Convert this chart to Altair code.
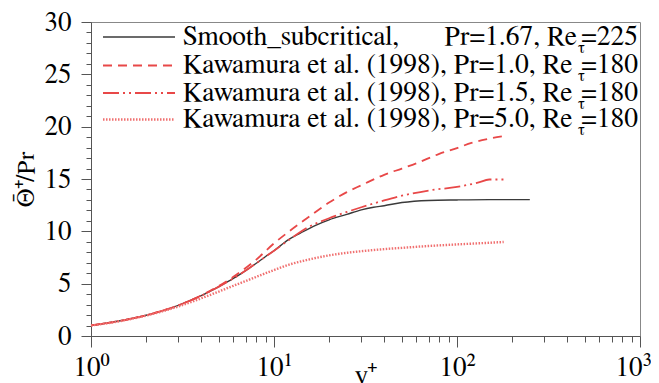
import altair as alt
import pandas as pd

# ---- data ----
yplus_smooth = [1, 1.5, 2, 2.5, 3, 4, 5, 6, 7, 8, 9, 10, 12, 14, 17, 20, 25, 30, 35, 40, 50, 70, 100, 150, 200, 250]
theta_smooth = [1.0, 1.5, 1.98, 2.45, 2.93, 3.85, 4.72, 5.5, 6.25, 6.95, 7.6, 8.15, 9.2, 9.85, 10.6, 11.1, 11.62, 12.05, 12.3, 12.45, 12.75, 12.95, 13.0, 13.03, 13.03, 13.03]

yplus_pr10 = [1, 1.5, 2, 3, 4, 5, 6, 7, 8, 10, 12, 15, 20, 25, 30, 40, 50, 60, 80, 100, 120, 150, 180]
theta_pr10 = [1.0, 1.5, 1.98, 2.93, 3.87, 4.78, 5.65, 6.5, 7.3, 8.85, 9.95, 11.2, 12.75, 13.75, 14.4, 15.4, 16.0, 16.5, 17.4, 17.95, 18.45, 18.85, 19.1]

yplus_pr15 = [1, 1.5, 2, 3, 4, 5, 6, 7, 8, 10, 12, 15, 20, 25, 30, 40, 50, 70, 100, 130, 150, 180]
theta_pr15 = [1.0, 1.5, 1.98, 2.93, 3.85, 4.72, 5.5, 6.25, 6.95, 8.15, 9.15, 10.3, 11.25, 11.85, 12.3, 12.95, 13.4, 13.9, 14.25, 14.65, 14.95, 14.95]

yplus_pr50 = [1, 1.5, 2, 3, 4, 5, 6, 7, 8, 10, 12, 15, 20, 25, 30, 40, 50, 70, 100, 140, 180]
theta_pr50 = [1.0, 1.48, 1.95, 2.82, 3.6, 4.25, 4.8, 5.25, 5.65, 6.3, 6.8, 7.25, 7.7, 7.95, 8.1, 8.3, 8.42, 8.6, 8.75, 8.88, 8.98]

x_major = [1, 10, 100, 1000]
x_tick_labels = ["10⁰", "10¹", "10²", "10³"]
x_minor = [2, 3, 4, 5, 6, 7, 8, 9, 20, 30, 40, 50, 60, 70, 80, 90, 200, 300, 400, 500, 600, 700, 800, 900]
y_major = [0, 5, 10, 15, 20, 25, 30]
y_minor = [v for v in range(31) if v % 5 != 0]

legend_left = ["Smooth_subcritical,", "Kawamura et al. (1998), Pr=1.0, Re",
               "Kawamura et al. (1998), Pr=1.5, Re", "Kawamura et al. (1998), Pr=5.0, Re"]
legend_mid = ["Pr=1.67, Re", None, None, None]
legend_sub = ["τ", "τ", "τ", "τ"]
legend_right = ["=225", "=180", "=180", "=180"]

# ---- styles ----
FONT = "FreeSerif"
BLACK = "#3a3a3a"
RED = "#e84848"
PINK = "#f07070"
styles = [
    dict(color=BLACK, width=1.4, dash=None),
    dict(color=RED, width=1.8, dash=[9, 6]),
    dict(color=RED, width=1.8, dash=[16, 4, 2, 4, 2, 4]),
    dict(color=PINK, width=2.4, dash=[1.5, 1.5]),
]
series = [(yplus_smooth, theta_smooth), (yplus_pr10, theta_pr10),
          (yplus_pr15, theta_pr15), (yplus_pr50, theta_pr50)]

W, H = 549, 314
xscale = alt.Scale(type="log", domain=[1, 1000], nice=False)
yscale = alt.Scale(domain=[0, 30], nice=False, zero=False)

label_expr = " : ".join(
    f"datum.value == {v} ? '{l}'" for v, l in zip(x_major[:-1], x_tick_labels[:-1])
) + f" : '{x_tick_labels[-1]}'"

x_axis_major = alt.Axis(
    values=x_major, labelExpr=label_expr, tickSize=11, labelPadding=28,
    labelBaseline="alphabetic", labelFont=FONT, labelFontSize=27, labelColor="black",
    labelOffset=alt.ConditionalAxisNumber(condition={"test": "datum.value == 1000", "value": -7}, value=0),
    domainColor="#555", tickColor="#555", grid=False, labelFlush=False, labelOverlap=False,
    title="y⁺", titleFont=FONT, titleFontSize=27, titleFontWeight="normal", titleColor="black",
    titleX=W / 2, titleY=47, titleBaseline="alphabetic", orient="bottom",
)
y_axis_major = alt.Axis(
    values=y_major, tickSize=10, labelPadding=10, labelFont=FONT, labelFontSize=27,
    labelColor="black", domainColor="#555", tickColor="#555", grid=False, labelOverlap=False,
    title="Θ̄⁺/Pr", titleFont=FONT, titleFontSize=25, titleFontWeight="normal", titleColor="black",
    titleX=-58, titleY=H / 2, titleAngle=270, titleBaseline="alphabetic", orient="left",
)
x_axis_minor = alt.Axis(values=x_minor, tickSize=6, labels=False, domain=False, grid=False,
                        tickColor="#555", title=None, orient="bottom")
y_axis_minor = alt.Axis(values=y_minor, tickSize=5, labels=False, domain=False, grid=False,
                        tickColor="#555", title=None, orient="left")

layers = []
for i, ((xs, ys), st) in enumerate(zip(series, styles)):
    df = pd.DataFrame({"yplus": xs, "theta": ys})
    mk = dict(color=st["color"], strokeWidth=st["width"], interpolate="monotone")
    if st["dash"]:
        mk["strokeDash"] = st["dash"]
    layers.append(alt.Chart(df).mark_line(**mk).encode(
        x=alt.X("yplus:Q", scale=xscale, axis=x_axis_major if i == 0 else None),
        y=alt.Y("theta:Q", scale=yscale, axis=y_axis_major if i == 0 else None),
    ))

# minor ticks layer (invisible line carrying the minor-tick axes)
df0 = pd.DataFrame({"yplus": yplus_smooth, "theta": theta_smooth})
layers.insert(1, alt.Chart(df0).mark_line(strokeOpacity=0).encode(
    x=alt.X("yplus:Q", scale=xscale, axis=x_axis_minor),
    y=alt.Y("theta:Q", scale=yscale, axis=y_axis_minor),
))

# ---- legend inside the plot, top-left ----
row_base = [22.5, 51, 78.5, 105]
one = alt.Data(values=[{"k": 1}])
for i in range(4):
    st = styles[i]
    rk = dict(color=st["color"], strokeWidth=st["width"])
    if st["dash"]:
        rk["strokeDash"] = st["dash"]
    layers.append(alt.Chart(one).mark_rule(**rk).encode(
        x=alt.value(12), x2=alt.value(84), y=alt.value(row_base[i] - 7.5)))
    txt = dict(font=FONT, fontSize=27.5, color="black", baseline="alphabetic")
    layers.append(alt.Chart(one).mark_text(align="left", **txt).encode(
        x=alt.value(92), y=alt.value(row_base[i]), text=alt.value(legend_left[i])))
    if legend_mid[i] is not None:
        layers.append(alt.Chart(one).mark_text(align="right", **txt).encode(
            x=alt.value(486), y=alt.value(row_base[i]), text=alt.value(legend_mid[i])))
    layers.append(alt.Chart(one).mark_text(align="left", font=FONT, fontSize=16, color="black",
                                           baseline="alphabetic").encode(
        x=alt.value(487), y=alt.value(row_base[i] + 8), text=alt.value(legend_sub[i])))
    layers.append(alt.Chart(one).mark_text(align="right", **txt).encode(
        x=alt.value(547), y=alt.value(row_base[i]), text=alt.value(legend_right[i])))

chart = alt.layer(*layers).resolve_axis(x="independent", y="independent").properties(
    width=W, height=H,
    autosize=alt.AutoSizeParams(type="none"),
    padding={"left": 83, "top": 14, "right": 11, "bottom": 47},
    background="white",
).configure_view(stroke="#888", strokeWidth=1)

chart.save("out.html", embed_options={"renderer": "svg", "actions": False})
